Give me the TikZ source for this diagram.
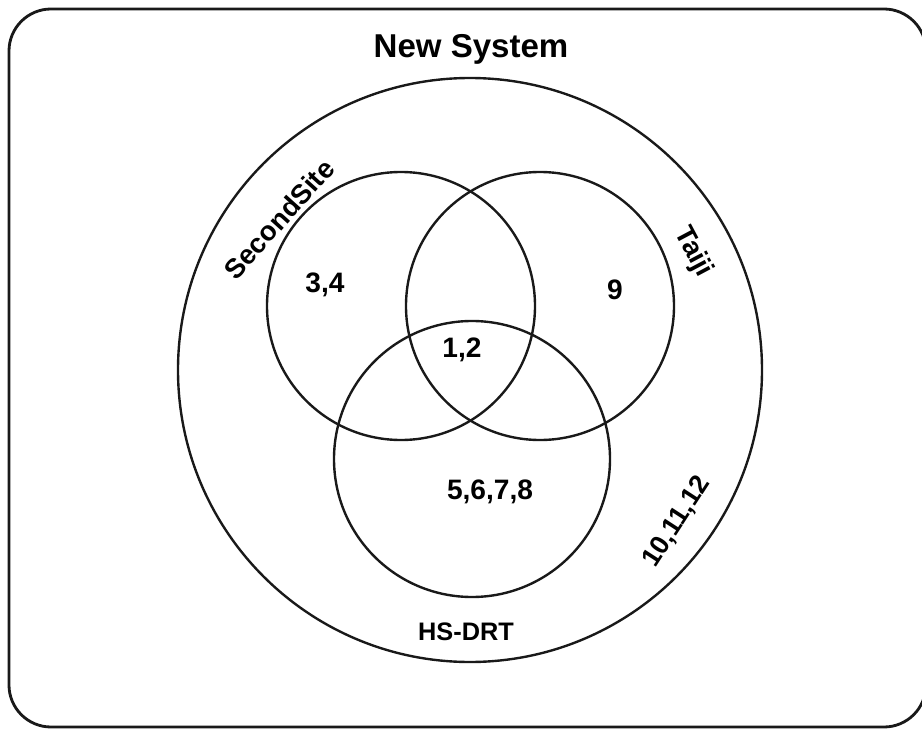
\documentclass[tikz,border=0pt]{standalone}
\usepackage{fontspec}
\setmainfont{Liberation Sans}
\begin{document}
\begin{tikzpicture}[x=0.025cm,y=-0.025cm,
  set/.style={draw=black!90,line width=1.7pt,circle,inner sep=0pt},
  title/.style={font=\bfseries\fontsize{23.5}{28}\selectfont,inner sep=0pt},
  lbl/.style={font=\bfseries\fontsize{19.5}{23}\selectfont,inner sep=0pt},
  num/.style={font=\bfseries\fontsize{20}{24}\selectfont,inner sep=0pt}]
\useasboundingbox (0,0) rectangle (922,729);
\draw[line width=2pt,rounded corners=1.05cm,draw=black!90] (9,9) rectangle (926,727);
% universe
\node[set,minimum size=584*0.025cm] (U) at (470,370) {};
% sets
\node[set,minimum size=268*0.025cm] (S) at (401,306) {};
\node[set,minimum size=268*0.025cm] (T) at (540,306) {};
\node[set,minimum size=276*0.025cm] (H) at (472,459) {};
% labels
\node[title] (tU) at (471,49) {New System};
\node[lbl,rotate=48] (tS) at (279,219) {SecondSite};
\node[lbl,rotate=-62] (tT) at (693,252) {Taiji};
\node[lbl,font=\bfseries\fontsize{18}{22}\selectfont] (tH) at (466,632) {HS-DRT};
\node[num] (n34) at (325,285) {3,4};
\node[num] (n9) at (615,290) {9};
\node[num] (n12) at (462,350) {1,2};
\node[num] (n5678) at (490,492) {5,6,7,8};
\node[num,font=\bfseries\fontsize{19}{23}\selectfont,rotate=57] (n101112) at (677,522) {10,11,12};
\end{tikzpicture}
\end{document}
